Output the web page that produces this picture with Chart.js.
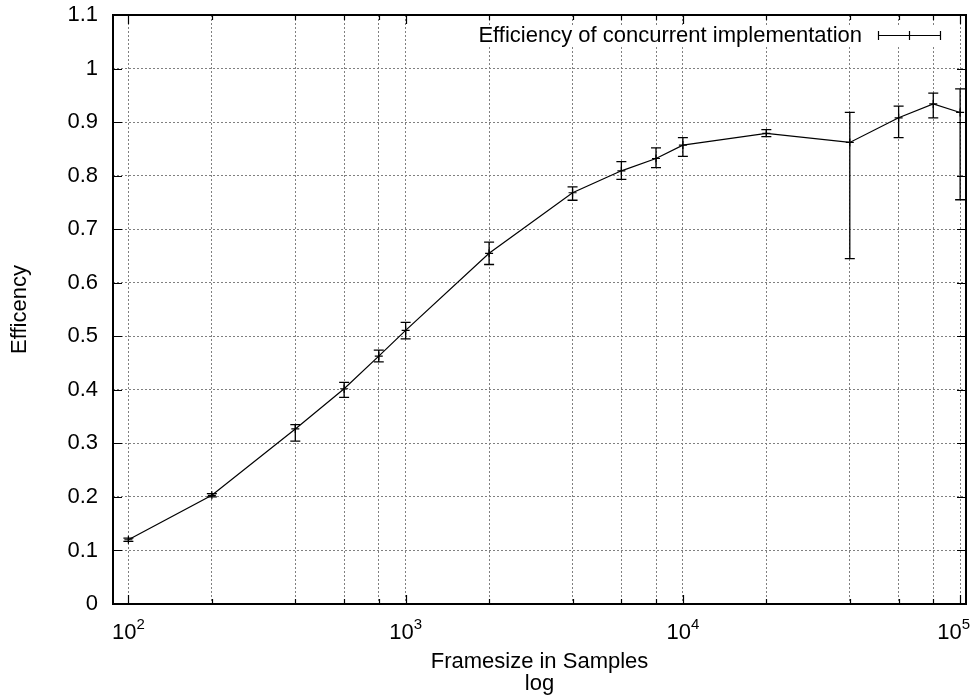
<!DOCTYPE html>
<html>
<head>
<meta charset="utf-8">
<title>Efficiency of concurrent implementation</title>
<script src="https://cdn.jsdelivr.net/npm/chart.js@4.4.0/dist/chart.umd.min.js"></script>
<style>
  html, body { margin: 0; padding: 0; background: #fff; }
  #wrap { width: 974px; height: 697px; }
</style>
</head>
<body>
<div id="wrap"><canvas id="effChart" width="974" height="697"></canvas></div>
<script>
// measured frame sizes and efficiency (mean, lower and upper error)
const framesize  = [100, 200, 400, 600, 800, 1000, 2000, 4000, 6000, 8000, 10000, 20000, 40000, 60000, 80000, 100000];
const efficiency = [0.120, 0.203, 0.327, 0.402, 0.463, 0.511, 0.655, 0.768, 0.809, 0.832, 0.857, 0.879, 0.862, 0.908, 0.934, 0.918];
const effLow     = [0.117, 0.200, 0.304, 0.386, 0.452, 0.495, 0.634, 0.754, 0.793, 0.815, 0.836, 0.873, 0.645, 0.871, 0.908, 0.755];
const effHigh    = [0.123, 0.206, 0.335, 0.414, 0.474, 0.526, 0.676, 0.779, 0.826, 0.852, 0.871, 0.886, 0.918, 0.930, 0.954, 0.962];

const xGridValues = [100, 200, 400, 600, 800, 1000, 2000, 4000, 6000, 8000, 10000, 20000, 40000, 60000, 80000, 100000];
const xMajorTicks = [100, 1000, 10000, 100000];
const seriesLabel = 'Efficiency of concurrent implementation';
const xTitle = ['Framesize in Samples', 'log'];
const yTitle = 'Efficency';

const FONT = "'Liberation Sans', Arial, Helvetica, sans-serif";
Chart.defaults.font.family = FONT;
Chart.defaults.color = '#000';

const errorBars = {
    id: 'errorBars',
    afterDatasetsDraw(chart) {
        const ctx = chart.ctx;
        const xs = chart.scales.x;
        const ys = chart.scales.y;
        ctx.save();
        ctx.strokeStyle = '#000';
        ctx.lineWidth = 1.3;
        framesize.forEach((f, i) => {
            const px = xs.getPixelForValue(f);
            const lo = ys.getPixelForValue(effLow[i]);
            const hi = ys.getPixelForValue(effHigh[i]);
            ctx.beginPath();
            ctx.moveTo(px, lo); ctx.lineTo(px, hi);
            ctx.moveTo(px - 5, lo); ctx.lineTo(px + 5, lo);
            ctx.moveTo(px - 5, hi); ctx.lineTo(px + 5, hi);
            ctx.stroke();
        });
        ctx.restore();
    }
};

const frameAndTicks = {
    id: 'frameAndTicks',
    afterDraw(chart) {
        const ctx = chart.ctx;
        const a = chart.chartArea;
        const xs = chart.scales.x;
        const ys = chart.scales.y;
        ctx.save();
        ctx.strokeStyle = '#000';
        ctx.lineWidth = 1.2;
        ctx.beginPath();
        xGridValues.forEach(v => {
            const px = Math.round(xs.getPixelForValue(v)) + 0.5;
            const len = xMajorTicks.includes(v) ? 9 : 5;
            ctx.moveTo(px, a.bottom); ctx.lineTo(px, a.bottom - len);
            ctx.moveTo(px, a.top); ctx.lineTo(px, a.top + len);
        });
        ys.ticks.forEach(t => {
            const py = Math.round(ys.getPixelForValue(t.value)) + 0.5;
            ctx.moveTo(a.left, py); ctx.lineTo(a.left + 9, py);
            ctx.moveTo(a.right, py); ctx.lineTo(a.right - 9, py);
        });
        ctx.stroke();

        // legend inside the plot, top right
        ctx.fillStyle = '#fff';
        ctx.fillRect(468, 25, a.right - 476, 22);
        ctx.fillStyle = '#000';
        ctx.font = '22px ' + FONT;
        ctx.textAlign = 'right';
        ctx.textBaseline = 'middle';
        ctx.fillText(seriesLabel, 862, 36);
        ctx.lineWidth = 1.2;
        ctx.beginPath();
        ctx.moveTo(878, 35.5); ctx.lineTo(941, 35.5);
        [878.5, 909.5, 940.5].forEach(x => { ctx.moveTo(x, 31); ctx.lineTo(x, 40); });
        ctx.stroke();

        // plot border
        ctx.lineWidth = 2;
        ctx.strokeRect(a.left, a.top, a.right - a.left, a.bottom - a.top);

        // x tick labels 10^n
        ctx.fillStyle = '#000';
        ctx.textBaseline = 'alphabetic';
        ctx.textAlign = 'left';
        xMajorTicks.forEach(v => {
            const px = xs.getPixelForValue(v);
            const exp = String(Math.round(Math.log10(v)));
            ctx.font = '22px ' + FONT;
            const w1 = ctx.measureText('10').width;
            ctx.font = '15px ' + FONT;
            const w2 = ctx.measureText(exp).width;
            const x0 = Math.min(px - (w1 + w2) / 2, chart.width - 4 - w1 - w2);
            ctx.font = '22px ' + FONT;
            ctx.fillText('10', x0, 639);
            ctx.font = '15px ' + FONT;
            ctx.fillText(exp, x0 + w1, 629);
        });
        ctx.restore();
    }
};

const ctx = document.getElementById('effChart').getContext('2d');
new Chart(ctx, {
    type: 'line',
    data: {
        datasets: [{
            label: seriesLabel,
            data: framesize.map((f, i) => ({ x: f, y: efficiency[i] })),
            borderColor: '#000',
            backgroundColor: '#000',
            borderWidth: 1.2,
            pointStyle: 'cross',
            pointRadius: 4,
            pointBorderWidth: 1.2,
            tension: 0
        }]
    },
    options: {
        responsive: false,
        animation: false,
        devicePixelRatio: 1,
        layout: { padding: { top: 15, right: 8, left: 0, bottom: 0 } },
        plugins: {
            legend: { display: false },
            tooltip: { enabled: false }
        },
        scales: {
            x: {
                type: 'logarithmic',
                min: 88,
                max: 105000,
                afterBuildTicks: scale => { scale.ticks = xGridValues.map(v => ({ value: v })); },
                afterFit: scale => {
                    scale.height = 93;
                    scale.paddingLeft = 0;
                    scale.paddingRight = 0;
                },
                ticks: { display: false },
                grid: { color: '#808080', lineWidth: 1, drawTicks: false },
                border: { display: false, dash: [2, 2] },
                title: {
                    display: true,
                    text: xTitle,
                    font: { size: 22, lineHeight: 1 },
                    padding: { top: 0, bottom: 2 }
                }
            },
            y: {
                min: 0,
                max: 1.1,
                afterFit: scale => {
                    scale.width = 113;
                    scale.paddingTop = 0;
                    scale.paddingBottom = 0;
                },
                ticks: {
                    stepSize: 0.1,
                    padding: 15,
                    font: { size: 22 },
                    callback: v => String(+v.toFixed(1))
                },
                grid: { color: '#808080', lineWidth: 1, drawTicks: false },
                border: { display: false, dash: [2, 2] },
                title: {
                    display: true,
                    text: yTitle,
                    font: { size: 22, lineHeight: 1 },
                    padding: { top: 9, bottom: 0 }
                }
            }
        }
    },
    plugins: [errorBars, frameAndTicks]
});
</script>
</body>
</html>
